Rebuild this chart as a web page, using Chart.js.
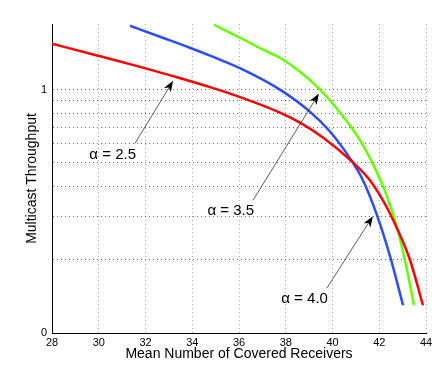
<!DOCTYPE html>
<html>
<head>
<meta charset="utf-8">
<script src="https://cdn.jsdelivr.net/npm/chart.js@4/dist/chart.umd.min.js"></script>
<style>
  body { margin: 0; background: #fff; }
</style>
</head>
<body>
<canvas id="chart" width="436" height="366"></canvas>
<script>
// curve data (x = mean covered receivers, y = throughput)
const redX = [28, 30.05, 31.89, 33.18, 34.76, 36.17, 37.75, 38.61, 39.59, 40.83, 41.6, 42.25, 42.76, 43.32, 43.87];
const redY = [1.543, 1.372, 1.231, 1.136, 1.024, 0.923, 0.805, 0.732, 0.636, 0.507, 0.424, 0.338, 0.269, 0.199, 0.13];

const blueX = [31.34, 32.62, 33.9, 34.76, 36.17, 37.75, 39.03, 39.89, 40.75, 41.26, 41.86, 42.46, 43.02];
const blueY = [1.83, 1.649, 1.486, 1.378, 1.208, 1.0, 0.812, 0.673, 0.522, 0.432, 0.313, 0.207, 0.13];

const greenX = [34.93, 36.04, 37.03, 37.75, 38.61, 39.47, 40.32, 41.18, 41.9, 42.33, 42.72, 43.1, 43.49];
const greenY = [1.847, 1.634, 1.458, 1.352, 1.185, 1.0, 0.805, 0.618, 0.457, 0.364, 0.28, 0.199, 0.13];

const xTicks = [28, 30, 32, 34, 36, 38, 40, 42, 44];
const yGrid = [0.1, 0.2, 0.3, 0.4, 0.5, 0.6, 0.7, 0.8, 0.9, 1];

// text arrows: label, tail point, head point (data coords)
const arrowLabels = ['\u03b1 = 2.5', '\u03b1 = 3.5', '\u03b1 = 4.0'];
const arrowTails = [[31.55, 0.601], [36.6, 0.351], [39.76, 0.153]];
const arrowHeads = [[33.18, 1.087], [39.42, 0.963], [41.73, 0.302]];

const toPoints = (xs, ys) => xs.map((x, i) => ({ x: x, y: ys[i] }));

const FONT = '"Liberation Sans", Arial, Helvetica, sans-serif';

const textArrows = {
  id: 'textArrows',
  afterDatasetsDraw(chart) {
    const { ctx, scales: { x, y } } = chart;
    ctx.save();
    arrowLabels.forEach((label, i) => {
      const tx = x.getPixelForValue(arrowTails[i][0]);
      const ty = y.getPixelForValue(arrowTails[i][1]);
      const hx = x.getPixelForValue(arrowHeads[i][0]);
      const hy = y.getPixelForValue(arrowHeads[i][1]);

      const ang = Math.atan2(hy - ty, hx - tx);
      const len = 11, half = 4;
      const bx = hx - len * Math.cos(ang), by = hy - len * Math.sin(ang);

      ctx.strokeStyle = '#333';
      ctx.lineWidth = 0.8;
      ctx.beginPath();
      ctx.moveTo(tx, ty);
      ctx.lineTo(bx + 3 * Math.cos(ang), by + 3 * Math.sin(ang));
      ctx.stroke();

      // stealth style head
      ctx.fillStyle = '#000';
      ctx.beginPath();
      ctx.moveTo(hx, hy);
      ctx.lineTo(bx - half * Math.sin(ang), by + half * Math.cos(ang));
      ctx.lineTo(bx + 3 * Math.cos(ang), by + 3 * Math.sin(ang));
      ctx.lineTo(bx + half * Math.sin(ang), by - half * Math.cos(ang));
      ctx.closePath();
      ctx.fill();

      ctx.font = '15px ' + FONT;
      ctx.fillStyle = '#000';
      ctx.textAlign = 'right';
      ctx.textBaseline = 'middle';
      ctx.fillText(label, tx + 1, ty + 11);
    });
    ctx.restore();
  }
};

const canvas = document.getElementById('chart');
new Chart(canvas.getContext('2d'), {
  type: 'line',
  data: {
    datasets: [
      { data: toPoints(redX, redY), borderColor: '#ff0000' },
      { data: toPoints(blueX, blueY), borderColor: '#2b4cff' },
      { data: toPoints(greenX, greenY), borderColor: '#66ff00' },
    ],
  },
  options: {
    responsive: false,
    animation: false,
    events: [],
    layout: { padding: { top: 24, right: 10, left: 0, bottom: 0 } },
    elements: {
      point: { radius: 0 },
      line: { borderWidth: 2.5, cubicInterpolationMode: 'monotone', fill: false },
    },
    plugins: {
      legend: { display: false },
      tooltip: { enabled: false },
    },
    scales: {
      x: {
        type: 'linear',
        min: 28,
        max: 44,
        afterBuildTicks: (scale) => { scale.ticks = xTicks.map((v) => ({ value: v })); },
        afterFit: (scale) => { scale.height = 33; },
        grid: { color: 'rgba(0,0,0,0.35)', lineWidth: 1, drawTicks: false },
        border: { color: '#000', width: 1, dash: [1, 3] },
        ticks: {
          autoSkip: false,
          maxRotation: 0,
          padding: 3,
          color: '#000',
          font: { family: FONT, size: 11 },
        },
        title: {
          display: true,
          text: 'Mean Number of Covered Receivers',
          color: '#000',
          font: { family: FONT, size: 14 },
          padding: { top: 0, bottom: 3 },
        },
      },
      y: {
        type: 'logarithmic',
        min: 0.1,
        max: 1.86,
        afterBuildTicks: (scale) => { scale.ticks = yGrid.map((v) => ({ value: v })); },
        afterFit: (scale) => { scale.width = 52; },
        grid: { color: 'rgba(0,0,0,0.6)', lineWidth: 1, drawTicks: false },
        border: { color: '#000', width: 1, dash: [1, 3] },
        ticks: {
          autoSkip: false,
          padding: 5,
          color: '#000',
          font: { family: FONT, size: 11 },
          callback: (v) => (v === 1 ? '1' : v === 0.1 ? '0' : ''),
        },
        title: {
          display: true,
          text: 'Multicast Throughput',
          color: '#000',
          font: { family: FONT, size: 14 },
          padding: { top: 24, bottom: 0 },
        },
      },
    },
  },
  plugins: [textArrows],
});
</script>
</body>
</html>
